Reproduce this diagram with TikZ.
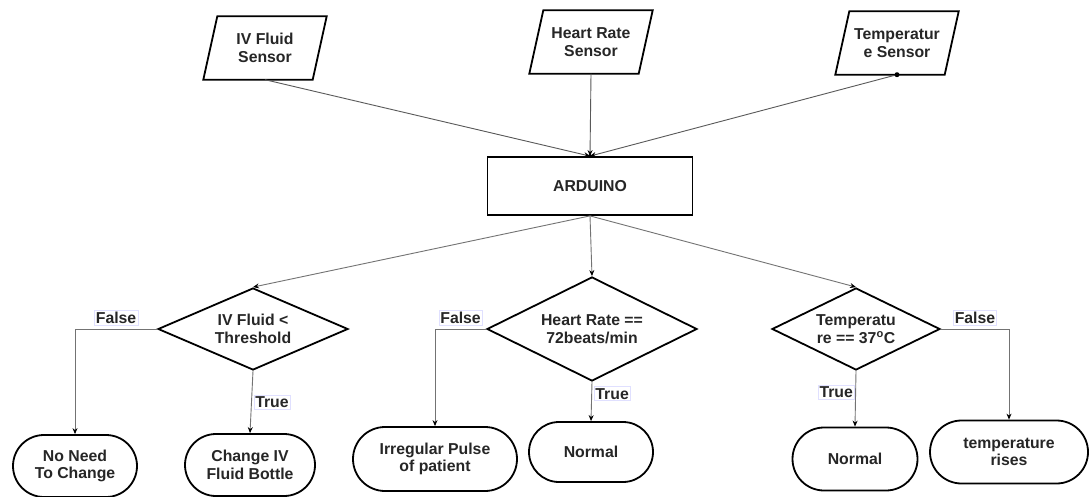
\documentclass[tikz,border=0pt]{standalone}
\usepackage{fontspec}
\setmainfont{Liberation Sans}
\usetikzlibrary{shapes.geometric,shapes.misc,arrows.meta}
\begin{document}
\begin{tikzpicture}[x=1pt,y=-1pt,
  every node/.style={font=\fontsize{15.8}{17.5}\selectfont\bfseries, text=black!85, align=center},
  sensor/.style={minimum width=109, minimum height=63, inner sep=0pt},
  proc/.style={draw, line width=1.8pt, minimum width=205, minimum height=58, inner sep=0pt},
  dec/.style={draw, diamond, line width=1.8pt, inner sep=0pt},
  term/.style={draw, rounded rectangle, line width=1.8pt, inner sep=0pt},
  conn/.style={draw=black!55, line width=0.9pt, -{Stealth[length=6pt,width=5pt,color=black]}},
  lbl/.style={fill=white, draw=blue!12, line width=0.5pt, inner sep=1.5pt}]
\useasboundingbox (0,0) rectangle (1089,497);
\fill[white] (0,0) rectangle (1089,497);

% sensors
\node[sensor] (iv) at (265,48) {IV Fluid\\Sensor};
\node[sensor] (hr) at (591,42) {Heart Rate\\Sensor};
\node[sensor] (tp) at (897,43) {Temperatur\\e Sensor};
\foreach \n in {iv,hr,tp}
  \draw[line width=1.8pt] ([xshift=-7pt]\n.south west) -- ([xshift=7pt]\n.north west)
     -- ([xshift=7pt]\n.north east) -- ([xshift=-7pt]\n.south east) -- cycle;

% controller
\node[proc] (ard) at (590,186) {ARDUINO};

% decisions
\node[dec, minimum width=190, minimum height=82, shape aspect=2.3] (d1) at (253,329) {IV Fluid <\\Threshold};
\node[dec, minimum width=210, minimum height=104, shape aspect=2] (d2) at (592,329) {Heart Rate ==\\72beats/min};
\node[dec, minimum width=168, minimum height=82, shape aspect=2] (d3) at (856,329) {Temperatu\\re == 37\textsuperscript{o}C};

% terminals
\node[term, minimum width=124, minimum height=62] (t1) at (75,466) {No Need\\To Change};
\node[term, minimum width=130, minimum height=62] (t2) at (250,465) {Change IV\\Fluid Bottle};
\node[term, minimum width=164, minimum height=64] (t3) at (435,459) {Irregular Pulse\\of patient};
\node[term, minimum width=124, minimum height=60] (t4) at (591,452) {Normal};
\node[term, minimum width=125, minimum height=63] (t5) at (855,459) {Normal};
\node[term, minimum width=158, minimum height=63] (t6) at (1009,452) {temperature\\rises};

% sensor links
\draw[conn, draw=black!65] (iv.south) -- (ard.north);
\draw[conn, draw=black!65] (hr.south) -- (ard.north);
\draw[conn, draw=black!65] (tp.south) -- (ard.north);
\fill (tp.south) circle (2.5);
\fill (ard.north) circle (2);

% controller to decisions
\draw[conn] (ard.south) -- (d1.north);
\draw[conn] (ard.south) -- (d2.north);
\draw[conn] (ard.south) -- (d3.north);

% branches
\draw[conn] (d1.west) -| node[lbl, pos=0.25, above=4pt] {False} (t1.north);
\draw[conn] (d1.south) -- node[lbl, right=2pt] {True} (t2.north);
\draw[conn] (d2.west) -| node[lbl, pos=0.25, above=4pt] {False} (t3.north);
\draw[conn] (d2.south) -- node[lbl, right=2pt, pos=0.3] {True} (t4.north);
\draw[conn] (d3.south) -- node[lbl, left=1pt, pos=0.38] {True} (t5.north);
\draw[conn] (d3.east) -| node[lbl, pos=0.25, above=4pt] {False} (t6.north);
\end{tikzpicture}
\end{document}
